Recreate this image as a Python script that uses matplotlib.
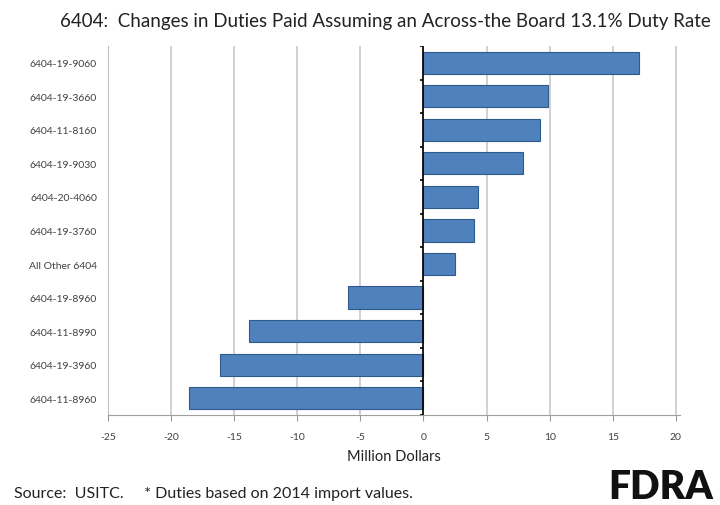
import numpy as np
import matplotlib
matplotlib.use("Agg")
import matplotlib.pyplot as plt

# categories listed top to bottom
codes = ["6404-19-9060", "6404-19-3660", "6404-11-8160", "6404-19-9030",
         "6404-20-4060", "6404-19-3760", "All Other 6404", "6404-19-8960",
         "6404-11-8990", "6404-19-3960", "6404-11-8960"]
change = [17.1, 9.85, 9.2, 7.9, 4.3, 4.0, 2.5, -6.0, -13.8, -16.1, -18.6]
xticks = [-25, -20, -15, -10, -5, 0, 5, 10, 15, 20]

plt.rcParams['font.family'] = ['Lato', 'DejaVu Sans']

fig = plt.figure(figsize=(7.2, 5.06), dpi=100)
ax = fig.add_axes([0.15, 0.178, 0.794, 0.729])

y = np.arange(len(codes))
ax.barh(y, change, height=0.66, color="#4F81BD", edgecolor="#2F5A8C", linewidth=0.8, zorder=3)
ax.set_ylim(len(codes) - 0.5, -0.5)
ax.set_yticks(y)
ax.set_yticklabels(codes, fontsize=7.5, color="#404040")
ax.tick_params(axis="y", length=0, pad=8)

ax.set_xlim(-25, 20.3)
ax.set_xticks(xticks)
ax.set_xticklabels([str(t) for t in xticks], fontsize=7.5, color="#404040")
ax.tick_params(axis="x", length=4, color="#999999", pad=8)
ax.grid(axis="x", color="#c8c8c8", linewidth=1.2, zorder=0)

for side in ["top", "right"]:
    ax.spines[side].set_visible(False)
ax.spines["left"].set_color("#c0c0c0")
ax.spines["bottom"].set_color("#a0a0a0")

# zero axis with category tick marks
ax.axvline(0, color="black", linewidth=1.2, zorder=4)
bounds = np.arange(len(codes) + 1) - 0.5
ax.hlines(bounds, -0.25, 0, color="black", linewidth=1.2, zorder=4)

ax.set_xlabel("Million Dollars", fontsize=10.5, color="#222222", labelpad=6)

fig.text(0.535, 0.958, "6404:  Changes in Duties Paid Assuming an Across-the Board 13.1% Duty Rate",
         ha="center", va="center", fontsize=13.5, color="#222222")
fig.text(0.02, 0.024, "Source:  USITC.     * Duties based on 2014 import values.",
         ha="left", va="center", fontsize=11.5, color="#222222")
fig.text(0.99, 0.036, "FDRA", ha="right", va="center", fontsize=28, fontweight="heavy",
         color="#111111")

fig.savefig("out.png", dpi=100)
